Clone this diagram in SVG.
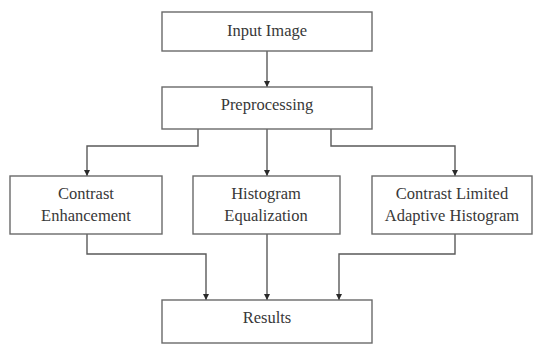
<svg xmlns="http://www.w3.org/2000/svg" width="534" height="345" viewBox="0 0 534 345">
<defs>
<style>
.box{fill:#fff;stroke:#6a6a6a;stroke-width:1.4}
.lbl{font-family:'Liberation Serif','Times New Roman',Times,serif;font-size:16.5px;fill:#383838;text-anchor:middle}
.con{fill:none;stroke:#5a5a5a;stroke-width:1.4}
</style>
<marker id="ah" viewBox="0 0 8 8" refX="8" refY="4" markerWidth="6" markerHeight="6" markerUnits="userSpaceOnUse" orient="auto">
<path d="M0,0 L8,4 L0,8 Z" fill="#2a2a2a"/>
</marker>
</defs>
<rect width="534" height="345" fill="#fff"/>
<g id="connectors">
<path class="con" d="M267,51 V87" marker-end="url(#ah)"/>
<path class="con" d="M198,129 V146 H87 V176" marker-end="url(#ah)"/>
<path class="con" d="M267,129 V176" marker-end="url(#ah)"/>
<path class="con" d="M331,129 V146 H455 V176" marker-end="url(#ah)"/>
<path class="con" d="M87,234 V254 H206 V300" marker-end="url(#ah)"/>
<path class="con" d="M267,234 V300" marker-end="url(#ah)"/>
<path class="con" d="M455,234 V254 H339 V300" marker-end="url(#ah)"/>
</g>
<g id="input">
<rect class="box" x="162" y="12" width="210" height="39"/>
<text class="lbl" x="267" y="36">Input Image</text>
</g>
<g id="preprocessing">
<rect class="box" x="162" y="87" width="210" height="42"/>
<text class="lbl" x="267" y="110">Preprocessing</text>
</g>
<g id="contrast">
<rect class="box" x="10" y="176" width="152" height="58"/>
<text class="lbl" x="86" y="199">Contrast</text>
<text class="lbl" x="86" y="221">Enhancement</text>
</g>
<g id="histogram">
<rect class="box" x="193" y="176" width="147" height="58"/>
<text class="lbl" x="266" y="199">Histogram</text>
<text class="lbl" x="266" y="221">Equalization</text>
</g>
<g id="clahe">
<rect class="box" x="372" y="176" width="160" height="58"/>
<text class="lbl" x="452" y="199">Contrast Limited</text>
<text class="lbl" x="452" y="221">Adaptive Histogram</text>
</g>
<g id="results">
<rect class="box" x="162" y="300" width="210" height="43"/>
<text class="lbl" x="267" y="323">Results</text>
</g>
</svg>
